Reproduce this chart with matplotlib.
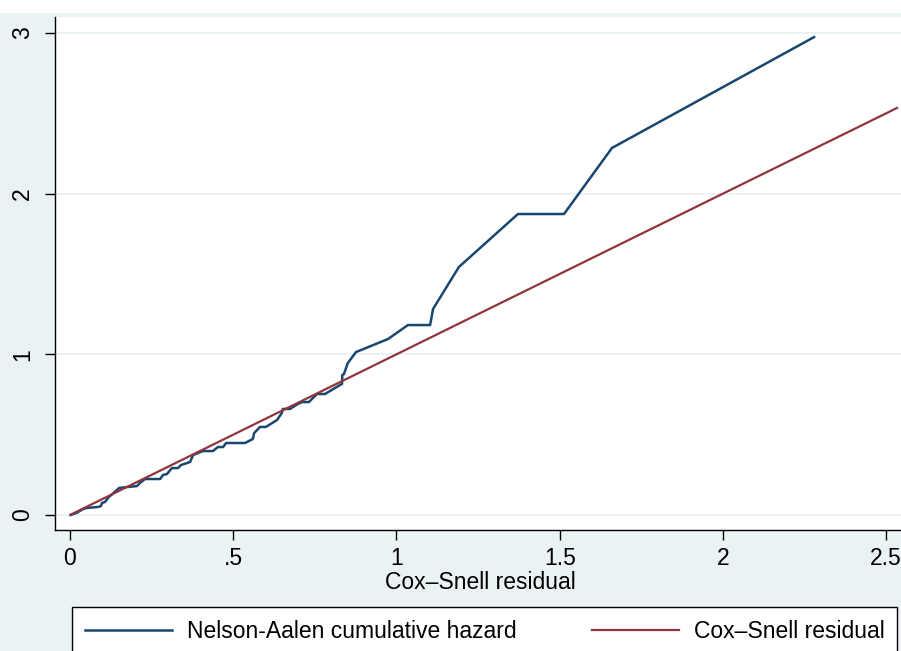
import matplotlib
matplotlib.use("Agg")
import matplotlib.pyplot as plt
from matplotlib.patches import Rectangle

# Nelson-Aalen cumulative hazard vs Cox-Snell residual
na_x = [0.002, 0.021, 0.040, 0.052, 0.086, 0.095, 0.098, 0.107, 0.119, 0.144,
        0.150, 0.175, 0.205, 0.214, 0.230, 0.276, 0.285, 0.297, 0.312, 0.331,
        0.340, 0.368, 0.377, 0.407, 0.438, 0.453, 0.469, 0.478, 0.536, 0.560,
        0.564, 0.582, 0.600, 0.634, 0.649, 0.652, 0.674, 0.698, 0.711, 0.732,
        0.750, 0.757, 0.781, 0.827, 0.833, 0.834, 0.839, 0.851, 0.876, 0.974,
        1.035, 1.103, 1.112, 1.191, 1.372, 1.513, 1.660, 2.279]
na_y = [0.000, 0.014, 0.037, 0.044, 0.050, 0.056, 0.075, 0.081, 0.112, 0.156,
        0.168, 0.174, 0.180, 0.199, 0.224, 0.224, 0.249, 0.255, 0.292, 0.292,
        0.311, 0.330, 0.373, 0.398, 0.398, 0.423, 0.423, 0.448, 0.448, 0.473,
        0.510, 0.548, 0.548, 0.591, 0.635, 0.660, 0.660, 0.691, 0.703, 0.703,
        0.741, 0.753, 0.753, 0.809, 0.815, 0.871, 0.877, 0.946, 1.014, 1.095,
        1.182, 1.182, 1.282, 1.543, 1.873, 1.873, 2.284, 2.974]
cs_x = [0.002, 2.533]
cs_y = [0.002, 2.533]

xticks = [0, 0.5, 1, 1.5, 2, 2.5]
xticklabels = ["0", ".5", "1", "1.5", "2", "2.5"]
yticks = [0, 1, 2, 3]
yticklabels = ["0", "1", "2", "3"]

plt.rcParams['font.family'] = ['Liberation Sans', 'DejaVu Sans']
BG = "#EAF2F3"
NAVY = "#1a476f"
MAROON = "#90353b"

W, H = 901, 651
fig = plt.figure(figsize=(W / 100, H / 100), dpi=100, facecolor="white")
fig.patches.append(Rectangle((0, 0), 1, 1 - 13 / H, transform=fig.transFigure,
                             facecolor=BG, edgecolor="none", zorder=-10))

left, right, top, bottom = 55, 906, 17, 530
ax = fig.add_axes([left / W, 1 - bottom / H, (right - left) / W, (bottom - top) / H])
ax.set_facecolor("white")

l1, = ax.plot(na_x, na_y, color=NAVY, lw=1.8, label="Nelson-Aalen cumulative hazard",
              solid_joinstyle="round", zorder=3)
l2, = ax.plot(cs_x, cs_y, color=MAROON, lw=1.6, label="Cox–Snell residual", zorder=3)

ax.set_xlim(-0.0459, 2.5605)
ax.set_ylim(-0.0933, 3.099)
ax.set_xticks(xticks)
ax.set_xticklabels(xticklabels)
ax.set_yticks(yticks)
ax.set_yticklabels(yticklabels, rotation=90, va="center")
ax.grid(axis="y", color=BG, lw=1.4, zorder=0)
ax.set_axisbelow(True)
for s in ["top", "right"]:
    ax.spines[s].set_visible(False)
for s in ["left", "bottom"]:
    ax.spines[s].set_color("black")
    ax.spines[s].set_linewidth(1.0)
ax.tick_params(axis="both", direction="out", length=7, width=1.0, labelsize=16.5,
               colors="black")
ax.tick_params(axis="x", pad=5)
ax.tick_params(axis="y", pad=8)
ax.set_xlabel("Cox–Snell residual", fontsize=16.5, labelpad=1)

leg = fig.legend(handles=[l1, l2], loc="upper left",
                 bbox_to_anchor=(72 / W, 1 - 607 / H - 0.2, (897 - 72) / W, 0.2),
                 mode="expand", ncol=2, fontsize=16.5, frameon=True, fancybox=False,
                 handlelength=3.8, handletextpad=0.65, borderpad=0.55,
                 borderaxespad=0, framealpha=1.0)
leg.get_frame().set_edgecolor("black")
leg.get_frame().set_linewidth(1.0)
leg.get_frame().set_facecolor("white")

fig.savefig("out.png", dpi=100, facecolor=fig.get_facecolor())
